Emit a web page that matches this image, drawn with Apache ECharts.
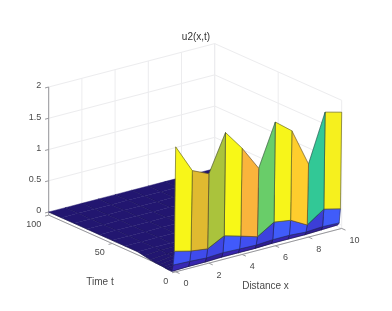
<!DOCTYPE html>
<html><head><meta charset="utf-8">
<style>html,body{margin:0;padding:0;background:#fff}#c{width:392px;height:311px}</style>
<script src="https://cdn.jsdelivr.net/npm/echarts@6/dist/echarts.min.js"></script>
</head><body><div id="c"></div>
<script>
// ---- data ----
const xNodes = [0,1,2,3,4,5,6,7,8,9,10];
const timeRows = [0,1,2,3,4,6,8,10,13,16,20,25,30,40,50,60,70,80,90,100];
const u_t0  = [1.95,1.50,1.38,1.97,1.65,1.26,1.93,1.72,1.12,1.88,1.81];
const u_t1  = [0.27,0.205,0.17,0.31,0.235,0.155,0.32,0.28,0.135,0.32,0.256];
const u_t2  = [0.04,0.03,0.015,0.03,0.02,0.012,0.03,0.03,0.012,0.03,0.02];
const u_t3  = [-0.07,-0.06,-0.06,-0.05,-0.05,-0.05,-0.04,-0.04,-0.04,-0.03,-0.02];
const u_t4  = [-0.07,-0.06,-0.05,-0.05,-0.04,-0.04,-0.03,-0.03,-0.03,-0.02,-0.02];
const u_t6  = [-0.07,-0.05,-0.04,-0.04,-0.03,-0.03,-0.02,-0.02,-0.02,-0.01,-0.01];
const u_t8  = [-0.065,-0.04,-0.03,-0.03,-0.02,-0.02,-0.01,-0.01,-0.01,-0.01,0];
const u_t10 = [-0.06,-0.03,-0.02,-0.02,-0.01,-0.01,-0.01,0,0,0,0];
const u_t13 = [-0.055,-0.02,-0.01,-0.01,0,0,0,0,0,0,0];
const u_t16 = [-0.05,-0.01,0,0,0,0,0,0,0,0,0];
const u_t20 = [-0.04,-0.01,0,0,0,0,0,0,0,0,0];
const u_t25 = [-0.02,0,0,0,0,0,0,0,0,0,0];
const u_flat = [0,0,0,0,0,0,0,0,0,0,0];
const uRows = [u_t0,u_t1,u_t2,u_t3,u_t4,u_t6,u_t8,u_t10,u_t13,u_t16,u_t20,u_t25,
               u_flat,u_flat,u_flat,u_flat,u_flat,u_flat,u_flat,u_flat];
const xTicks = [0,2,4,6,8,10];
const tTicks = [0,50,100];
const zTicks = [0,0.5,1,1.5,2];
const zTickLabels = ['0','0.5','1','1.5','2'];
const zFloor = -0.05, zTop = 2, tBack = 100, xEnd = 10;

// ---- MATLAB-style orthographic view ----
const view = {ox:175.7, oy:268.7, xx:16.6, xy:-4.34, tx:-1.27, ty:-0.567, zy:-62.5};
const project = (x,t,z) => [view.ox + view.xx*x + view.tx*t,
                            view.oy + view.xy*x + view.ty*t + view.zy*z];
// colour scale (fraction of z/2 -> rgb)
const cmap = [[0,[34,22,112]],[0.01,[55,35,170]],[0.09,[62,72,232]],[0.15,[66,88,252]],[0.3,[30,150,225]],
  [0.42,[10,185,195]],[0.56,[50,200,150]],[0.63,[105,205,105]],[0.69,[170,195,60]],[0.75,[224,186,48]],
  [0.825,[250,180,60]],[0.86,[254,205,45]],[0.94,[246,240,30]],[1,[249,251,21]]];
function colorOf(z){
  const f=Math.max(0,Math.min(1,z/2));
  for(let i=1;i<cmap.length;i++){ if(f<=cmap[i][0]){
    const a=cmap[i-1],b=cmap[i],k=(f-a[0])/(b[0]-a[0]);
    return 'rgb('+a[1].map((v,j)=>Math.round(v+(b[1][j]-v)*k)).join(',')+')';
  }}
  return 'rgb(249,251,21)';
}
// ---- build segments from the ticks ----
const gridSegs=[], axisSegs=[], labels=[];
zTicks.forEach(z=>{
  gridSegs.push([0,tBack,z, xEnd,tBack,z]);
  gridSegs.push([xEnd,tBack,z, xEnd,0,z]);
});
xTicks.forEach(x=>{
  gridSegs.push([x,tBack,zFloor, x,tBack,zTop]);
  gridSegs.push([x,0,zFloor, x,tBack,zFloor]);
});
tTicks.forEach(t=>{
  gridSegs.push([xEnd,t,zFloor, xEnd,t,zTop]);
  gridSegs.push([0,t,zFloor, xEnd,t,zFloor]);
});
axisSegs.push([0,tBack,zFloor, 0,tBack,zTop]);
axisSegs.push([0,tBack,zFloor, 0,0,zFloor]);
axisSegs.push([0,0,zFloor, xEnd,0,zFloor]);
zTicks.forEach(z=>axisSegs.push([0,tBack,z, -0.22,tBack,z]));
tTicks.forEach(t=>axisSegs.push([0,t,zFloor, -0.22,t,zFloor]));
xTicks.forEach(x=>axisSegs.push([x,0,zFloor, x,-3,zFloor]));
zTicks.forEach((z,i)=>labels.push({at:[0,tBack,z],dx:-7.5,dy:-1,text:zTickLabels[i],align:'right'}));
tTicks.forEach(t=>labels.push({at:[0,t,zFloor],dx:-7.5,dy:9.5,text:String(t),align:'right'}));
xTicks.forEach(x=>labels.push({at:[x,0,zFloor],dx:7.7,dy:12,text:String(x),align:'left'}));
labels.push({at:[0,62,zFloor],dx:3,dy:46,text:'Time t',align:'center',size:10});
labels.push({at:[5,0,zFloor],dx:6.8,dy:36.6,text:'Distance x',align:'center',size:10});

// faces, far to near
const faces=[];
for(let r=timeRows.length-2;r>=0;r--) for(let i=xNodes.length-2;i>=0;i--) faces.push([i,r]);

const chart=echarts.init(document.getElementById('c'),null,{renderer:'canvas'});
const FONT='"Liberation Sans",Arial,sans-serif';
const segRender=(style)=>(p,api)=>{
  const a=api.coord(project(api.value(0),api.value(1),api.value(2)));
  const b=api.coord(project(api.value(3),api.value(4),api.value(5)));
  return {type:'line',shape:{x1:a[0],y1:a[1],x2:b[0],y2:b[1]},style:style};
};
chart.setOption({
  animation:false,
  backgroundColor:'#fff',
  title:{text:'u2(x,t)',left:191,top:27,textAlign:'center',
    textStyle:{fontFamily:FONT,fontSize:10,fontWeight:'normal',color:'#333'}},
  grid:{left:0,top:0,width:392,height:311,containLabel:false},
  xAxis:{type:'value',min:0,max:392,show:false},
  yAxis:{type:'value',min:0,max:311,inverse:true,show:false},
  series:[
    {type:'custom',coordinateSystem:'cartesian2d',clip:false,silent:true,z:1,data:gridSegs,
     encode:{x:0,y:1},renderItem:segRender({stroke:'#ececee',lineWidth:1,fill:null})},
    {type:'custom',coordinateSystem:'cartesian2d',clip:false,silent:true,z:2,data:axisSegs,
     encode:{x:0,y:1},renderItem:segRender({stroke:'#98989c',lineWidth:1,fill:null})},
    {type:'custom',coordinateSystem:'cartesian2d',clip:false,silent:true,z:3,data:faces,
     encode:{x:0,y:1},renderItem:(p,api)=>{
       const i=api.value(0), r=api.value(1);
       const t0=timeRows[r], t1=timeRows[r+1], x0=xNodes[i], x1=xNodes[i+1];
       const A=api.coord(project(x0,t0,uRows[r][i]));
       const B=api.coord(project(x1,t0,uRows[r][i+1]));
       const C=api.coord(project(x1,t1,uRows[r+1][i+1]));
       const D=api.coord(project(x0,t1,uRows[r+1][i]));
       const col=colorOf(uRows[r][i]);
       const wall=r<3;
       const edge=wall?'rgba(25,25,40,0.55)':'rgba(14,9,55,0.75)';
       const kids=[{type:'polygon',shape:{points:[A,B,C,D]},
         style:{fill:col,stroke:col,lineWidth:0.4}}];
       if(wall){
         kids.push({type:'polygon',shape:{points:[A,B,C,D]},
           style:{fill:null,stroke:edge,lineWidth:0.8}});
       } else {
         kids.push({type:'line',shape:{x1:A[0],y1:A[1],x2:D[0],y2:D[1]},
           style:{stroke:edge,lineWidth:0.7,fill:null}});
         if(t1<=25) kids.push({type:'line',shape:{x1:D[0],y1:D[1],x2:C[0],y2:C[1]},
           style:{stroke:'rgba(14,9,55,0.35)',lineWidth:0.6,fill:null}});
       }
       return {type:'group',children:kids};
     }},
    {type:'custom',coordinateSystem:'cartesian2d',clip:false,silent:true,z:4,
     data:labels.map((l,k)=>[k]),encode:{x:0},renderItem:(p,api)=>{
       const l=labels[api.value(0)];
       const q=api.coord(project(l.at[0],l.at[1],l.at[2]));
       return {type:'text',x:q[0]+l.dx,y:q[1]+l.dy,
         style:{text:l.text,textAlign:l.align,textVerticalAlign:'middle',
           font:(l.size||9)+'px '+FONT,fill:'#4a4a4a'}};
     }}
  ]
});
</script></body></html>
